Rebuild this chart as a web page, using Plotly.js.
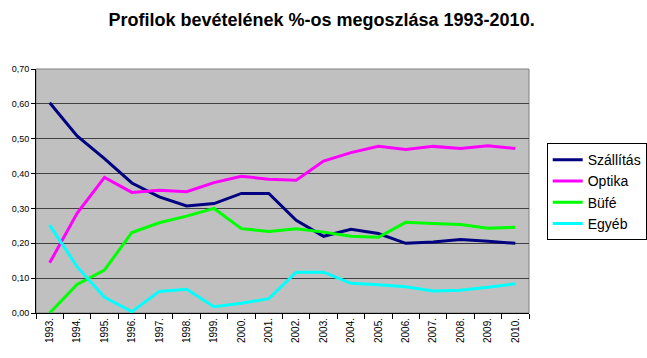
<!DOCTYPE html>
<html><head><meta charset="utf-8">
<script src="https://cdn.plot.ly/plotly-3.0.1.min.js"></script>
<style>body{margin:0;background:#fff}</style>
</head><body><div id="chart" style="width:647px;height:358px"></div>
<script>
const years = ["1993.","1994.","1995.","1996.","1997.","1998.","1999.","2000.","2001.","2002.","2003.","2004.","2005.","2006.","2007.","2008.","2009.","2010."];
const szallitas = [0.603,0.508,0.443,0.373,0.333,0.307,0.314,0.343,0.343,0.266,0.220,0.240,0.228,0.200,0.204,0.211,0.206,0.200];
const optika = [0.144,0.286,0.389,0.346,0.352,0.348,0.374,0.392,0.384,0.381,0.436,0.460,0.478,0.469,0.478,0.472,0.480,0.472];
const bufe = [0.000,0.082,0.123,0.231,0.259,0.278,0.300,0.242,0.234,0.242,0.232,0.220,0.217,0.260,0.257,0.254,0.243,0.246];
const egyeb = [0.252,0.133,0.045,0.004,0.062,0.068,0.018,0.028,0.041,0.117,0.117,0.085,0.081,0.075,0.063,0.065,0.074,0.084];
const names = ["Szállítás","Optika","Büfé","Egyéb"];
const colors = ["#000080","#FF00FF","#00FF00","#00FFFF"];
const series = [szallitas, optika, bufe, egyeb];
const data = series.map((s,i)=>({x:years,y:s,type:'scatter',mode:'lines',name:names[i],line:{color:colors[i],width:3}}));
const layout = {
  width:647,height:358,
  paper_bgcolor:'#ffffff',plot_bgcolor:'#C0C0C0',
  separators:',.',
  margin:{l:36,r:118,t:69,b:45},
  title:{text:'<b>Profilok bevételének %-os megoszlása 1993-2010.</b>',x:0.497,xanchor:'center',y:0.945,yanchor:'middle',font:{family:'Arial, Liberation Sans',size:18,color:'#000'}},
  font:{family:'Arial, Liberation Sans',color:'#000'},
  xaxis:{type:'category',range:[-0.5,17.5],tickangle:-90,tickfont:{size:10},ticks:'outside',ticklen:5,tickson:'boundaries',tickcolor:'#000',
    showline:true,linecolor:'#000',linewidth:1,mirror:false,showgrid:false,zeroline:false,fixedrange:true,automargin:false},
  yaxis:{range:[0,0.7],dtick:0.1,tickformat:'.2f',tickfont:{size:9},ticks:'outside',ticklen:4,tickcolor:'#000',
    showline:true,linecolor:'#000',linewidth:1,gridcolor:'#404040',gridwidth:1,zeroline:false,fixedrange:true,automargin:false},
  shapes:[{type:'rect',xref:'paper',yref:'paper',x0:0,x1:1,y0:0,y1:1,line:{color:'#808080',width:1},layer:'below'}],
  legend:{xref:'container',yref:'container',x:0.845,xanchor:'left',y:0.60,yanchor:'top',bgcolor:'#fff',bordercolor:'#000',borderwidth:1,
    font:{size:14,family:'Arial, Liberation Sans'},itemwidth:30,tracegroupgap:0},
  showlegend:true
};
Plotly.newPlot('chart',data,layout,{displayModeBar:false,staticPlot:true});
</script></body></html>
